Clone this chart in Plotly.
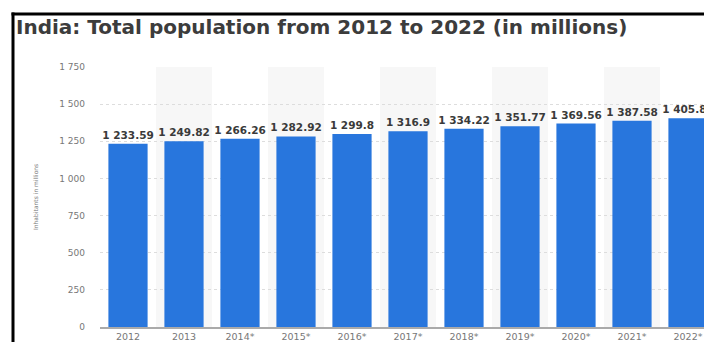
import plotly.graph_objects as go

years = ["2012", "2013", "2014*", "2015*", "2016*", "2017*", "2018*", "2019*", "2020*", "2021*", "2022*"]
population = [1233.59, 1249.82, 1266.26, 1282.92, 1299.8, 1316.9, 1334.22, 1351.77, 1369.56, 1387.58, 1405.83]
ytick_vals = [0, 250, 500, 750, 1000, 1250, 1500, 1750]

labels = [f"{v:,}".replace(",", " ") for v in population]
ytick_text = [f"{v:,}".replace(",", " ") for v in ytick_vals]

# page body has an 8px margin, so the figure is drawn 8px in from the top-left
OFF = 8
W, H = 712 - OFF, 342 - OFF
ML, MR, MT, MB = 100 - OFF, 0, 67 - OFF, 15
PW, PH = W - ML - MR, H - MT - MB
CAT = 56.0  # pixels per category


def px_x(p):  # reference-picture x pixel -> paper coordinate
    return (p - OFF - ML) / PW


def px_y(p):  # reference-picture y pixel -> paper coordinate
    return (H - MB - (p - OFF)) / PH


fig = go.Figure(go.Bar(
    x=list(range(len(years))), y=population, text=labels,
    textposition="outside", cliponaxis=False, constraintext="none",
    textfont=dict(family="DejaVu Sans", size=10.5, color="#3a3a3a", weight="bold"),
    marker=dict(color="#2876dd", line=dict(width=0)),
    width=0.7,
))

shapes = []
for i in range(len(years)):
    if i % 2 == 1:
        shapes.append(dict(type="rect", xref="x", yref="paper", x0=i - 0.5, x1=i + 0.5,
                           y0=0, y1=1, fillcolor="#f7f7f7", line=dict(width=0), layer="below"))
# black frame of the screenshot
shapes.append(dict(type="line", xref="paper", yref="paper", x0=px_x(13), x1=px_x(13),
                   y0=px_y(12.5), y1=px_y(H + 20), line=dict(color="black", width=3)))
shapes.append(dict(type="line", xref="paper", yref="paper", x0=px_x(11.5), x1=px_x(W + 20),
                   y0=px_y(14), y1=px_y(14), line=dict(color="black", width=3)))

fig.update_layout(
    width=W, height=H,
    margin=dict(l=ML, r=MR, t=MT, b=MB),
    paper_bgcolor="white", plot_bgcolor="white",
    showlegend=False,
    shapes=shapes,
    title=dict(text="<b>India: Total population from 2012 to 2022 (in millions)</b>",
               xref="container", yref="container", x=(16 - OFF) / W, xanchor="left",
               y=1 - (26.5 - OFF) / H, yanchor="middle",
               font=dict(family="DejaVu Sans", size=20, color="#3c3c3c")),
    annotations=[dict(text="Inhabitants in millions", xref="paper", yref="paper",
                      x=px_x(35), y=0.5, xanchor="center", yanchor="middle",
                      textangle=-90, showarrow=False,
                      font=dict(family="DejaVu Sans", size=6, color="#777777"))],
)
fig.update_xaxes(
    range=[-0.5, -0.5 + PW / CAT],
    tickvals=list(range(len(years))), ticktext=years,
    tickfont=dict(family="DejaVu Sans", size=9.5, color="#777777"),
    showgrid=False, showline=True, linecolor="#aaaaaa", linewidth=1.5,
    ticks="", fixedrange=True,
)
fig.update_yaxes(
    range=[0, 1750], tickvals=ytick_vals, ticktext=ytick_text,
    tickfont=dict(family="DejaVu Sans", size=9, color="#777777"),
    showgrid=True, gridcolor="#dddddd", griddash="dot", gridwidth=1,
    zeroline=False, ticklabelstandoff=14, showline=False,
)

fig.write_html("out.html")
